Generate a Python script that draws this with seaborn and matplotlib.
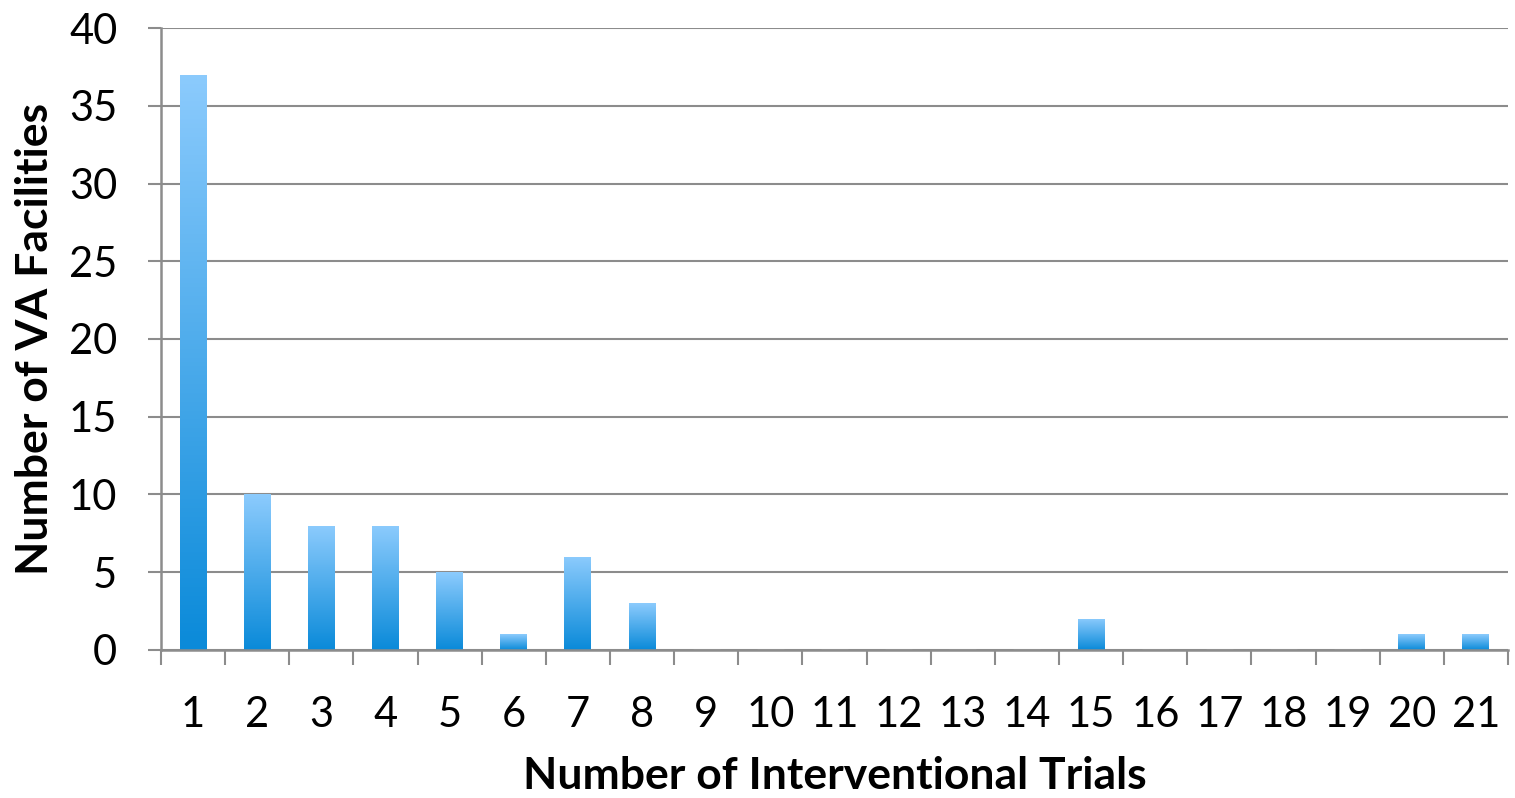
import numpy as np
import pandas as pd
import seaborn as sns
import matplotlib.pyplot as plt
from matplotlib.colors import LinearSegmentedColormap

trials = [str(i) for i in range(1, 22)]
facilities = [37, 10, 8, 8, 5, 1, 6, 3, 0, 0, 0, 0, 0, 0, 2, 0, 0, 0, 0, 1, 1]
yticks = [0, 5, 10, 15, 20, 25, 30, 35, 40]

df = pd.DataFrame({"trials": trials, "facilities": facilities})

sns.set_style("white")
plt.rcParams["font.family"] = ["Lato", "DejaVu Sans"]
plt.rcParams["text.color"] = "black"
plt.rcParams["axes.labelcolor"] = "black"
plt.rcParams["xtick.labelcolor"] = "black"
plt.rcParams["ytick.labelcolor"] = "black"

fig = plt.figure(figsize=(15.15, 7.98), dpi=100)
ax = fig.add_axes([0.1063, 0.1855, 0.8891, 0.7794])

sns.barplot(data=df, x="trials", y="facilities", order=trials,
            color="#4aa6ee", width=0.42, ax=ax, zorder=3)

# vertical gradient on each bar
cmap = LinearSegmentedColormap.from_list("bar", ["#0a8ad9", "#8ccbfd"])
grad = np.linspace(0, 1, 256).reshape(-1, 1)
for p in ax.patches:
    h = p.get_height()
    if h <= 0:
        continue
    x0, w = p.get_x(), p.get_width()
    im = ax.imshow(grad, cmap=cmap, origin="lower", aspect="auto",
                   extent=(x0, x0 + w, 0, h), zorder=4)
    im.set_clip_path(p)
    p.set_alpha(0)

gray = "#8c8c8c"
ax.set_xlim(-0.5, len(trials) - 0.5)
ax.set_ylim(0, 40)
ax.set_yticks(yticks)
ax.grid(axis="y", color=gray, linewidth=1.5, zorder=0)
ax.set_axisbelow(True)

for s in ["top", "right"]:
    ax.spines[s].set_visible(False)
for s in ["left", "bottom"]:
    ax.spines[s].set_color(gray)
    ax.spines[s].set_linewidth(1.8)
    ax.spines[s].set_zorder(5)

ax.set_xticks(np.arange(-0.5, len(trials), 1.0), minor=True)
ax.tick_params(axis="x", which="major", length=0, pad=33, labelsize=30)
ax.tick_params(axis="x", which="minor", length=11, width=1.5,
               color=gray, direction="out")
ax.tick_params(axis="y", which="major", length=9.5, width=1.5,
               color=gray, direction="out", pad=22, labelsize=30)
ax.tick_params(left=True, bottom=False)
ax.tick_params(axis="x", which="minor", bottom=True)

ax.set_xlabel("Number of Interventional Trials", fontsize=32,
              fontweight="bold", labelpad=16)
ax.set_ylabel("Number of VA Facilities", fontsize=32,
              fontweight="bold", labelpad=10)

fig.savefig("out.png", dpi=100)
